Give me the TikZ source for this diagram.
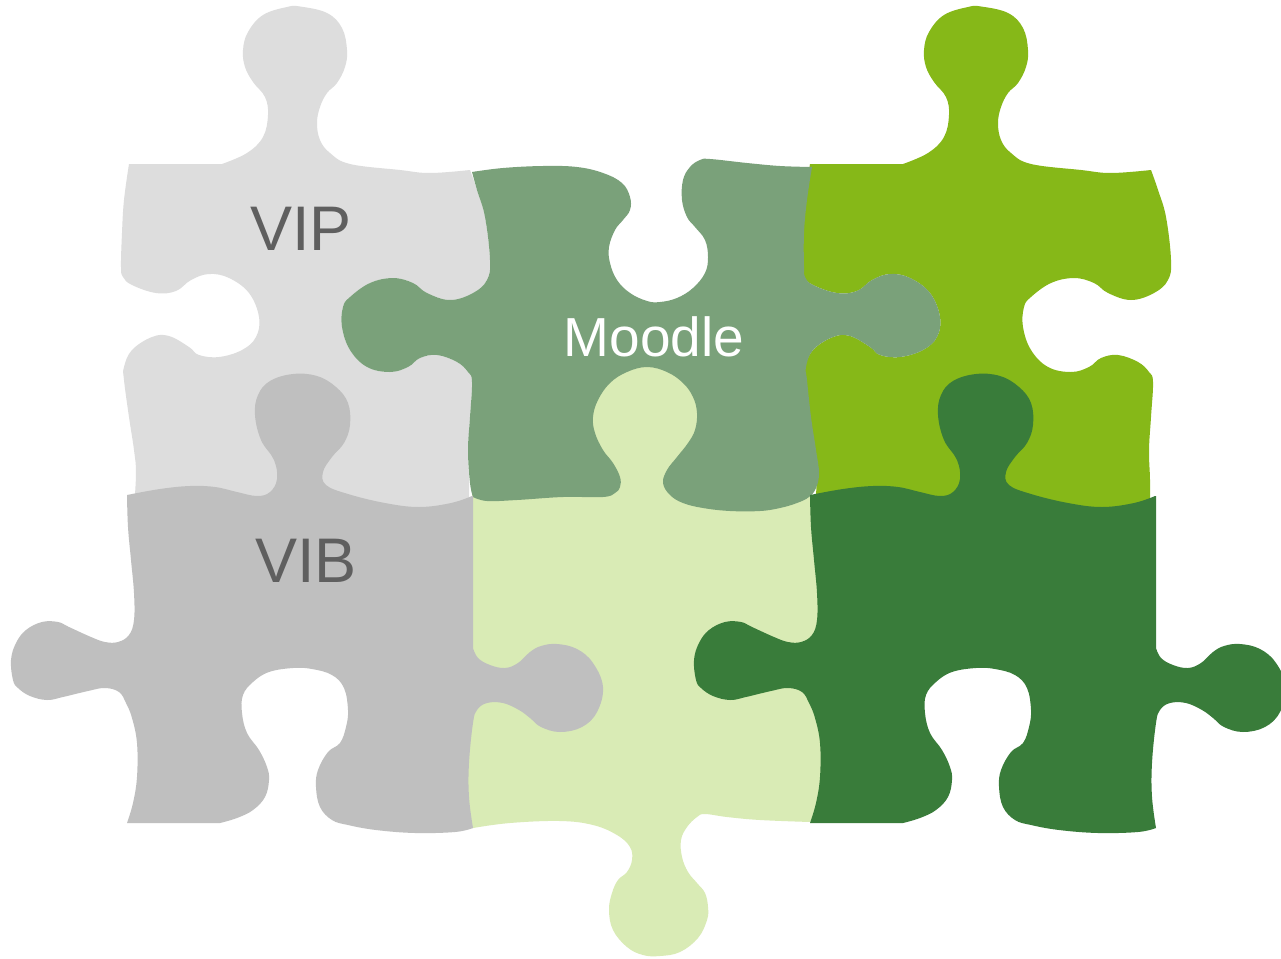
\documentclass[tikz,border=0pt]{standalone}
\usepackage{fontspec}
\setmainfont{Liberation Sans}
\definecolor{vipc}{HTML}{DDDDDD}
\definecolor{moodlec}{HTML}{7AA17A}
\definecolor{limec}{HTML}{86B818}
\definecolor{lgc}{HTML}{D9EBB5}
\definecolor{vibc}{HTML}{BFBFBF}
\definecolor{dgc}{HTML}{397C3A}
\definecolor{txtgray}{HTML}{5F5F5F}
\tikzset{
  sm/.style={smooth, tension=0.65},
  pieceA/.style={insert path={
    (129,164) -- (222,164)
    -- plot[sm] coordinates {(222,164) (247,153) (263,137) (268,115) (265,97) (253,82) (245,67) (243,50) (248,32) (263,15) (287,7) (300,6.5) (327,13) (342,28) (347,50) (345,67) (337,83) (327,93) (320,107) (317,123) (320,140) (330,153) (350,164) (400,170) (430,173) (470,170)}
    -- plot[sm] coordinates {(470,170) (477,190) (485,217) (490,260) (487,280) (473,293) (450,300) (427,293) (413,283) (393,278) (370,283) (350,297) (343,307) (342,327) (350,350) (367,367) (390,372) (408,367) (420,358) (437,355) (457,362) (468,372) (472,382) (470,417) (468,450) (469,480) (469,510)}
    -- (134,508)
    -- plot[sm] coordinates {(134,508) (136,473) (134,450) (129,417) (124,380) (124,367) (132,350) (152,337) (169,336) (189,347) (199,355) (219,357) (242,350) (256,337) (259,317) (249,293) (229,278) (209,274) (191,280) (176,291) (156,293) (132,285) (123,277) (121,267) (122,233) (124,200) (129,164)}
    -- cycle}},
  pieceB/.style={insert path={
    plot[sm] coordinates {(127,495) (160,489) (190,486) (215,487) (237,492) (257,496) (270,492) (277,479) (274,460) (261,440) (255,415) (258,395) (270,381) (293,374) (317,376) (336,387) (348,403) (350,425) (344,443) (332,457) (323,472) (326,485) (348,494) (385,503) (419,507) (451,503) (472,496)}
    -- (473,496) -- (473,648)
    -- plot[sm] coordinates {(473,648) (478,658) (490,665) (505,668) (518,663) (530,652) (541,646) (557,644) (577,649) (593,663) (603,687) (597,712) (582,727) (560,732) (541,727) (530,718) (519,710) (503,703) (487,703) (477,710) (473,723) (469,763) (469,797) (473,828)}
    -- plot[sm] coordinates {(473,828) (455,832) (415,833) (376,830) (348,825) (332,820) (320,807) (316,787) (318,770) (328,752) (340,743) (346,727) (348,710) (344,688) (332,675) (312,669) (293,668) (269,672) (253,682) (243,695) (242,713) (247,733) (259,750) (267,767) (269,780) (265,797) (253,810) (237,818) (220,823)}
    -- (127,823)
    -- plot[sm] coordinates {(127,823) (133,803) (137,777) (137,743) (132,718) (126,703) (119,692) (105,688) (88,691) (63,697) (47,700) (30,696) (18,688) (13,680) (11,660) (16,643) (26,630) (42,622) (58,622) (69,627) (91,637) (105,642) (118,642) (129,635) (134,620) (134,593) (131,560) (128,527) (127,495)}
    -- cycle}}
}
\begin{document}
\begin{tikzpicture}[x=1pt,y=-1pt]
\clip (0,0) rectangle (1281,958);
\fill[white] (0,0) rectangle (1281,958);
% VIP
\fill[vipc, pieceA];
% lime
\begin{scope}[xshift=681pt]
\fill[limec, pieceA];
\end{scope}
% light green
\fill[lgc] (472,492) -- (585,492) -- (585,362) -- (705,362) -- (705,492) -- (811,492) -- (812,497) -- (814,510) -- (818,545) -- (822,587) -- (822,617) -- (822,700) -- (825,760) -- (822,795) -- (810,823)
  -- plot[sm] coordinates {(810,822) (760,820) (727,817) (705,814) (697,817) (687,827) (681,840) (682,857) (688,872) (697,883) (705,893) (708,907) (707,920) (698,938) (680,952) (660,956) (643,955) (627,947) (613,930) (609,910) (612,893) (618,880) (627,872) (632,860) (630,847) (617,835) (593,825) (560,821) (510,823) (473,828)}
  -- (466,828) -- (465,505) -- (472,497) -- cycle;
% Moodle
\fill[moodlec]
  plot[sm] coordinates {(472,172) (503,168) (543,166) (577,167) (603,173) (622,183) (630,197) (630,210) (623,220) (615,230) (609,247) (610,263) (617,280) (630,293) (647,301) (660,302) (677,298) (693,288) (705,273) (708,257) (705,240) (695,227) (687,217) (682,200) (683,180) (690,167) (700,160) (710,159) (747,163) (780,166) (812,167)}
  -- plot[sm] coordinates {(812,167) (807,200) (804,233) (804,267) (805,277) (813,285) (837,293) (857,291) (872,280) (890,274) (910,278) (930,293) (940,317) (937,337) (923,350) (900,357) (880,355) (870,347) (850,336) (833,337) (813,350) (806,367) (807,380) (811,417) (816,450) (819,473) (816,488) (809,497) (797,503) (780,508) (760,511) (730,511) (703,508) (683,503) (670,495) (663,483) (667,470) (677,457) (688,443) (695,430) (697,413) (693,397) (683,383) (667,372) (647,367) (627,372) (610,383) (598,400) (593,417) (595,433) (603,450) (613,463) (620,477) (620,487) (615,493) (603,497) (563,497) (517,500) (487,501) (473,497)}
  -- plot[sm] coordinates {(473,497) (470,483) (468,450) (470,417) (472,382) (468,372) (457,362) (437,355) (420,358) (408,367) (390,372) (367,367) (350,350) (342,327) (343,307) (350,297) (370,283) (393,278) (413,283) (427,293) (450,300) (473,293) (487,280) (490,260) (485,217) (477,190) (472,172)}
  -- cycle;
% VIB
\fill[vibc, pieceB];
% dark green
\begin{scope}[xshift=683pt]
\fill[dgc, pieceB];
\end{scope}
% labels
\node[anchor=base, inner sep=0pt, text=txtgray, font=\fontsize{63}{63}\selectfont] (vip) at (301,250) {VIP};
\node[anchor=base, inner sep=0pt, text=txtgray, font=\fontsize{63}{63}\selectfont] (vib) at (306,582) {VIB};
\node[anchor=base, inner sep=0pt, text=white, font=\fontsize{55}{55}\selectfont] (moodle) at (654,356) {Moodle};
\end{tikzpicture}
\end{document}
